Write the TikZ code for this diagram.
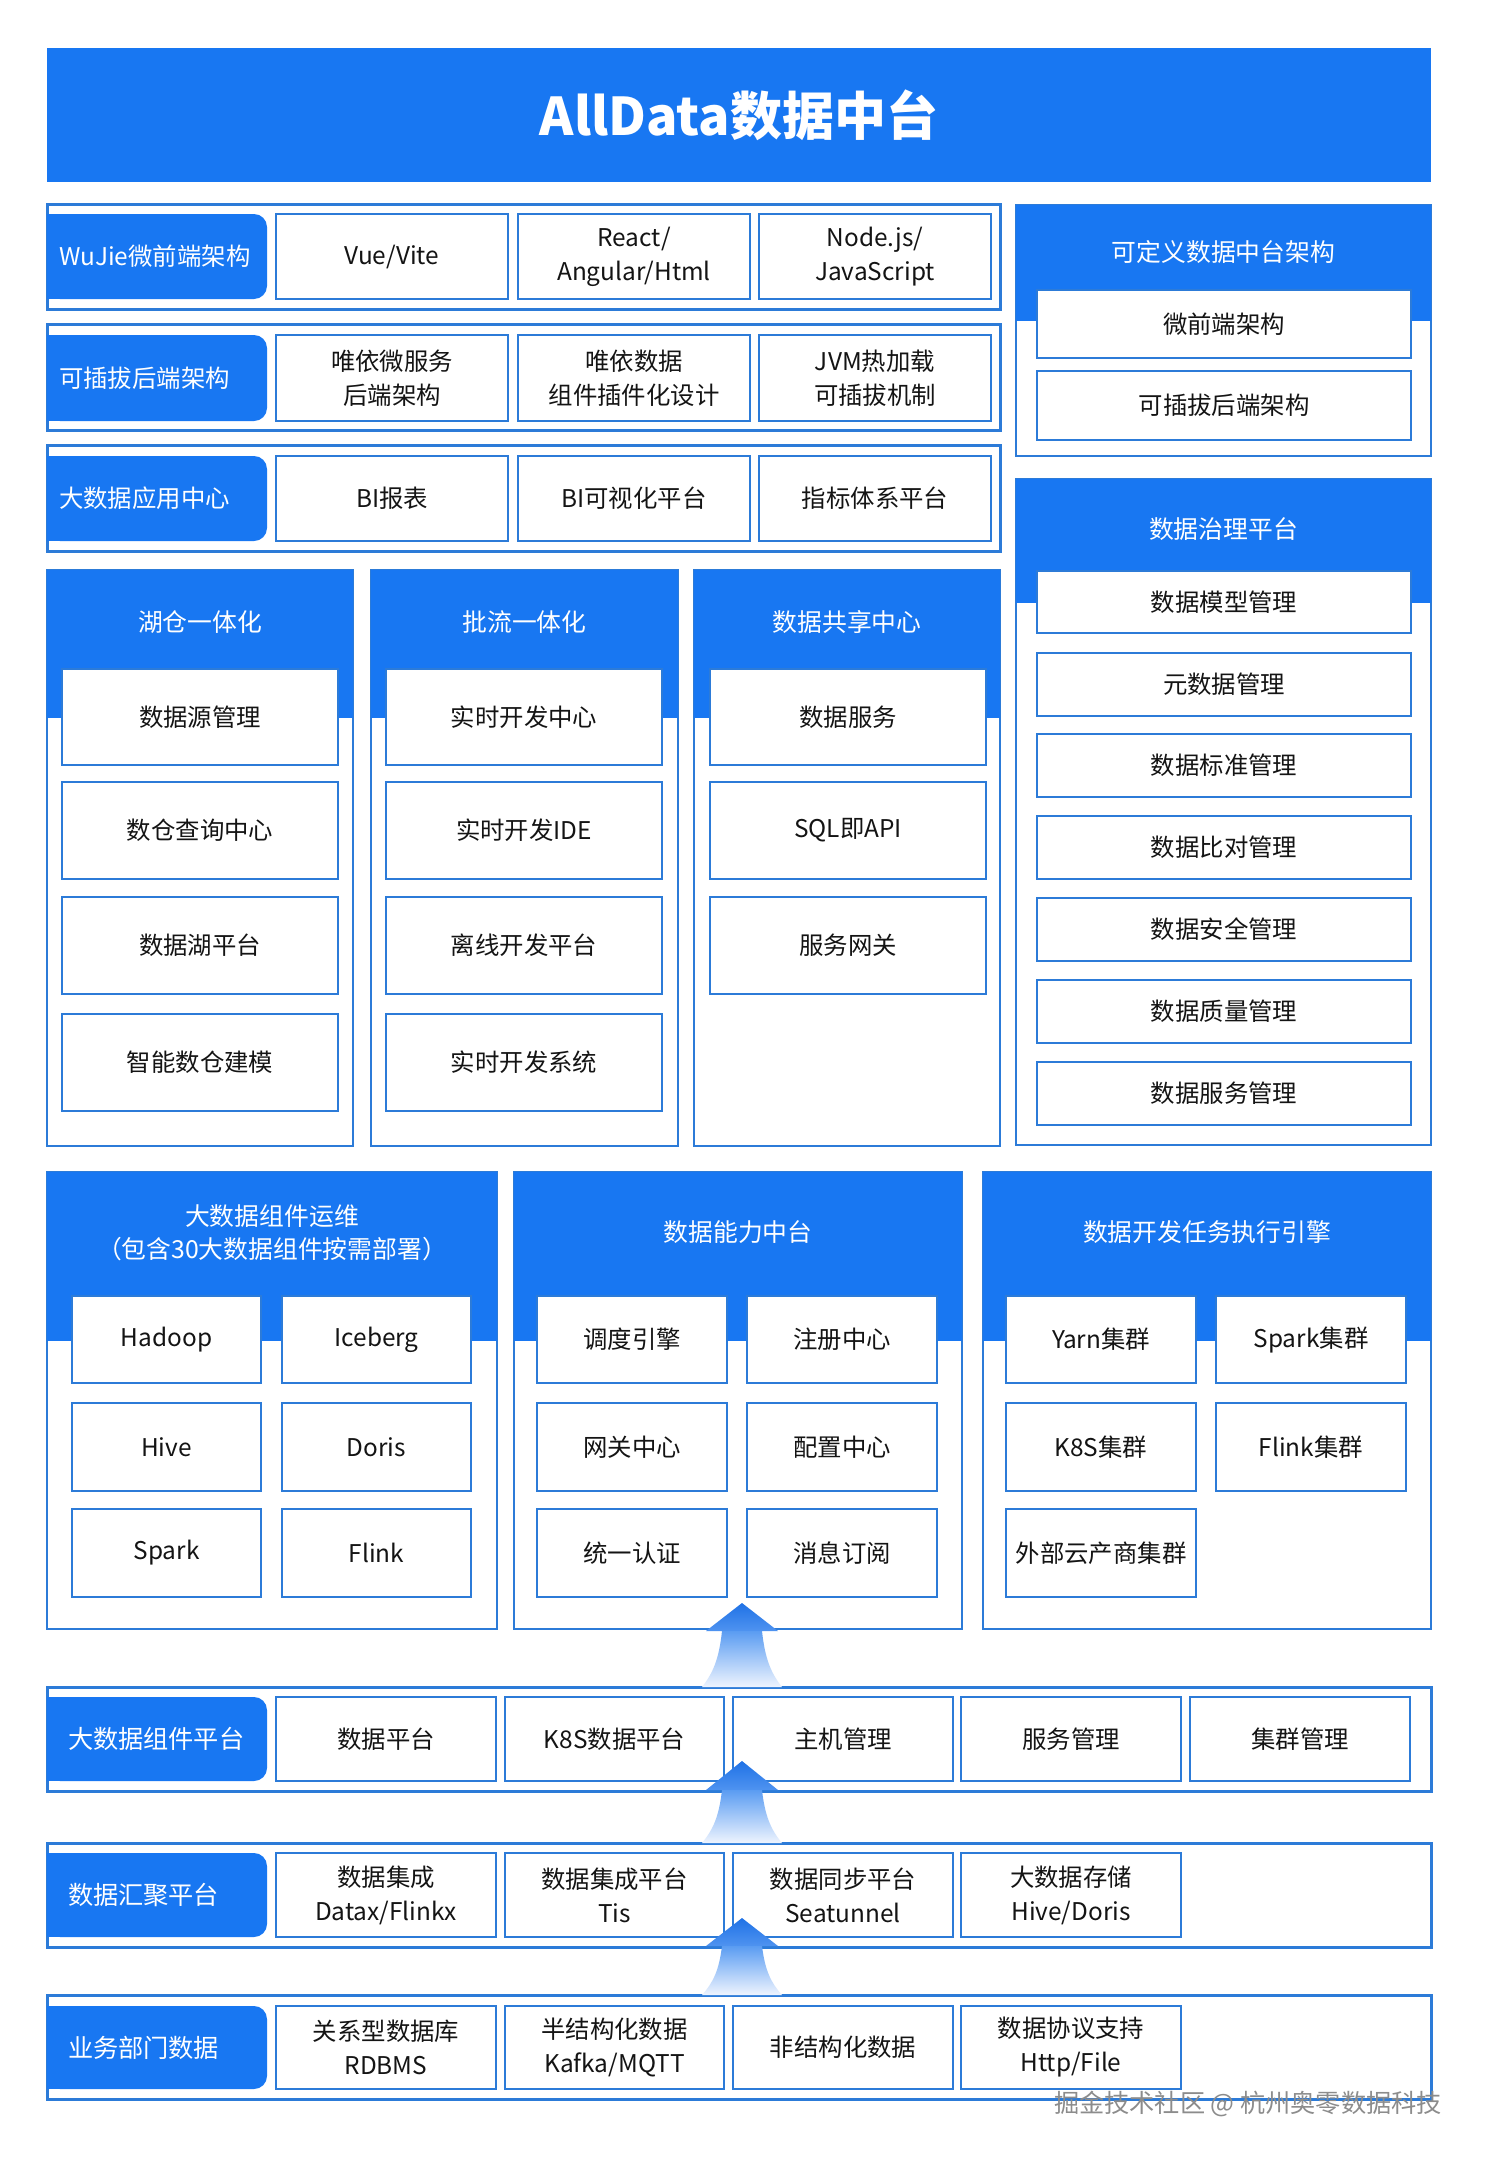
\documentclass[tikz,border=0pt]{standalone}
\usepackage{fontspec}
\setmainfont{Noto Sans CJK SC}
\definecolor{bblue}{HTML}{1877F2}
\definecolor{bline}{HTML}{2C7BD8}
\definecolor{arrA}{HTML}{1F72E6}
\definecolor{arrB}{HTML}{4F93F0}
\definecolor{arrC}{HTML}{5A9CF2}
\definecolor{arrD}{HTML}{EEF4FE}
\definecolor{wmark}{HTML}{8C8C8C}
\newcommand\bx[7]{\node[#1, minimum width={(#5-#3)*0.5pt}, minimum height={(#6-#4)*0.5pt}] (#2) at ({(#3+#5)/2},{(#4+#6)/2}) {#7};}
\newcommand\uparr[4]{%
  \shade[top color=arrA, bottom color=arrB] (742,#2) -- (778,#3) -- (706,#3) -- cycle;
  \shade[top color=arrC, bottom color=arrD] (722,#3) .. controls (719,{#3+0.5*(#4-#3)}) and (713,{#3+0.75*(#4-#3)}) .. (702,#4) -- (782,#4) .. controls (771,{#3+0.75*(#4-#3)}) and (765,{#3+0.5*(#4-#3)}) .. (762,#3) -- cycle;
  \coordinate (#1) at (742,#2);}
\tikzset{
  basefont/.style={font=\fontsize{12.2}{17}\selectfont},
  cell/.style={draw=bline, line width=0.8pt, fill=white, text=black!92, align=center, inner sep=0pt, basefont},
  rowbox/.style={draw=bline, line width=1.5pt, fill=white, inner sep=0pt},
  panel/.style={draw=bline, line width=1.3pt, fill=white, inner sep=0pt},
  hdr/.style={fill=bblue, draw=none, inner sep=0pt},
  hdrtext/.style={text=white, align=center, basefont, font=\fontsize{12.4}{16.5}\selectfont},
  labA/.style={fill=bblue, rounded corners=6.5pt, text=white, align=left, inner xsep=6pt, text width=98pt, inner ysep=0pt, basefont},
  labB/.style={fill=bblue, rounded corners=6.5pt, text=white, align=left, inner xsep=10.5pt, text width=89pt, inner ysep=0pt, font=\fontsize{12.6}{17}\selectfont},
}
\begin{document}
\begin{tikzpicture}[x=0.5pt,y=-0.5pt]
\useasboundingbox (0,0) rectangle (1484,2163);
\fill[white] (0,0) rectangle (1484,2163);
% Title
\bx{hdr, text=white, font=\fontsize{26}{30}\bfseries}{title}{47}{48}{1431}{182}{AllData数据中台}

% ---------- Upper left rows ----------
\bx{rowbox}{r1}{47}{204}{1000}{309}{}
\fill[bblue] (47,214) rectangle (160,299);
\bx{labA}{l1}{47}{214}{267}{299}{WuJie微前端架构}
\bx{cell}{c11}{276}{214}{508}{299}{Vue/Vite}
\bx{cell}{c12}{518}{214}{750}{299}{React/\\Angular/Html}
\bx{cell}{c13}{759}{214}{991}{299}{Node.js/\\JavaScript}

\bx{rowbox}{r2}{47}{324}{1000}{430}{}
\fill[bblue] (47,335) rectangle (160,421);
\bx{labA}{l2}{47}{335}{267}{421}{可插拔后端架构}
\bx{cell}{c21}{276}{335}{508}{421}{唯依微服务\\后端架构}
\bx{cell}{c22}{518}{335}{750}{421}{唯依数据\\组件插件化设计}
\bx{cell}{c23}{759}{335}{991}{421}{JVM热加载\\可插拔机制}

\bx{rowbox}{r3}{47}{445}{1000}{551}{}
\fill[bblue] (47,456) rectangle (160,541);
\bx{labA}{l3}{47}{456}{267}{541}{大数据应用中心}
\bx{cell}{c31}{276}{456}{508}{541}{BI报表}
\bx{cell}{c32}{518}{456}{750}{541}{BI可视化平台}
\bx{cell}{c33}{759}{456}{991}{541}{指标体系平台}

% ---------- Right panel 1 ----------
\bx{panel}{p1}{1016}{205}{1431}{456}{}
\bx{hdr}{p1h}{1016}{205}{1431}{321}{}
\node[hdrtext] (p1t) at (1223.5,252) {可定义数据中台架构};
\bx{cell}{p1a}{1037}{290}{1411}{358}{微前端架构}
\bx{cell}{p1b}{1037}{371}{1411}{440}{可插拔后端架构}

% ---------- Right panel 2 ----------
\bx{panel}{p2}{1016}{479}{1431}{1145}{}
\bx{hdr}{p2h}{1016}{479}{1431}{603}{}
\node[hdrtext] (p2t) at (1223.5,529) {数据治理平台};
\bx{cell}{p2a}{1037}{571}{1411}{633}{数据模型管理}
\bx{cell}{p2b}{1037}{653}{1411}{716}{元数据管理}
\bx{cell}{p2c}{1037}{734}{1411}{797}{数据标准管理}
\bx{cell}{p2d}{1037}{816}{1411}{879}{数据比对管理}
\bx{cell}{p2e}{1037}{898}{1411}{961}{数据安全管理}
\bx{cell}{p2f}{1037}{980}{1411}{1043}{数据质量管理}
\bx{cell}{p2g}{1037}{1062}{1411}{1125}{数据服务管理}

% ---------- Three columns ----------
\bx{panel}{k1}{47}{570}{353}{1146}{}
\bx{hdr}{k1h}{47}{570}{353}{718}{}
\node[hdrtext] (k1t) at (200,622) {湖仓一体化};
\bx{cell}{k1a}{62}{669}{338}{765}{数据源管理}
\bx{cell}{k1b}{62}{782}{338}{879}{数仓查询中心}
\bx{cell}{k1c}{62}{897}{338}{994}{数据湖平台}
\bx{cell}{k1d}{62}{1014}{338}{1111}{智能数仓建模}

\bx{panel}{k2}{371}{570}{678}{1146}{}
\bx{hdr}{k2h}{371}{570}{678}{718}{}
\node[hdrtext] (k2t) at (524.5,622) {批流一体化};
\bx{cell}{k2a}{386}{669}{662}{765}{实时开发中心}
\bx{cell}{k2b}{386}{782}{662}{879}{实时开发IDE}
\bx{cell}{k2c}{386}{897}{662}{994}{离线开发平台}
\bx{cell}{k2d}{386}{1014}{662}{1111}{实时开发系统}

\bx{panel}{k3}{694}{570}{1000}{1146}{}
\bx{hdr}{k3h}{694}{570}{1000}{718}{}
\node[hdrtext] (k3t) at (847,622) {数据共享中心};
\bx{cell}{k3a}{710}{669}{986}{765}{数据服务}
\bx{cell}{k3b}{710}{782}{986}{879}{SQL即API}
\bx{cell}{k3c}{710}{897}{986}{994}{服务网关}

% ---------- Lower panels ----------
\bx{panel}{qa}{47}{1172}{497}{1629}{}
\bx{hdr}{qah}{47}{1172}{497}{1341}{}
\node[hdrtext] (qat) at (272,1233) {大数据组件运维\\（包含30大数据组件按需部署）};
\bx{cell}{qa1}{72}{1296}{261}{1383}{Hadoop}
\bx{cell}{qa2}{282}{1296}{471}{1383}{Iceberg}
\bx{cell}{qa3}{72}{1403}{261}{1491}{Hive}
\bx{cell}{qa4}{282}{1403}{471}{1491}{Doris}
\bx{cell}{qa5}{72}{1509}{261}{1597}{Spark}
\bx{cell}{qa6}{282}{1509}{471}{1597}{Flink}

\bx{panel}{qb}{514}{1172}{962}{1629}{}
\bx{hdr}{qbh}{514}{1172}{962}{1341}{}
\node[hdrtext] (qbt) at (738,1232) {数据能力中台};
\bx{cell}{qb1}{537}{1296}{727}{1383}{调度引擎}
\bx{cell}{qb2}{747}{1296}{937}{1383}{注册中心}
\bx{cell}{qb3}{537}{1403}{727}{1491}{网关中心}
\bx{cell}{qb4}{747}{1403}{937}{1491}{配置中心}
\bx{cell}{qb5}{537}{1509}{727}{1597}{统一认证}
\bx{cell}{qb6}{747}{1509}{937}{1597}{消息订阅}

\bx{panel}{qc}{983}{1172}{1431}{1629}{}
\bx{hdr}{qch}{983}{1172}{1431}{1341}{}
\node[hdrtext] (qct) at (1207,1232) {数据开发任务执行引擎};
\bx{cell}{qc1}{1006}{1296}{1196}{1383}{Yarn集群}
\bx{cell}{qc2}{1216}{1296}{1406}{1383}{Spark集群}
\bx{cell}{qc3}{1006}{1403}{1196}{1491}{K8S集群}
\bx{cell}{qc4}{1216}{1403}{1406}{1491}{Flink集群}
\bx{cell}{qc5}{1006}{1509}{1196}{1597}{外部云产商集群}

% ---------- Bottom rows ----------
\bx{rowbox}{r4}{47}{1687}{1431}{1791}{}
\fill[bblue] (47,1697) rectangle (160,1781);
\bx{labB}{l4}{47}{1697}{267}{1781}{大数据组件平台}
\bx{cell}{c41}{276}{1697}{496}{1781}{数据平台}
\bx{cell}{c42}{505}{1697}{724}{1781}{K8S数据平台}
\bx{cell}{c43}{733}{1697}{953}{1781}{主机管理}
\bx{cell}{c44}{961}{1697}{1181}{1781}{服务管理}
\bx{cell}{c45}{1190}{1697}{1410}{1781}{集群管理}

\bx{rowbox}{r5}{47}{1843}{1431}{1947}{}
\fill[bblue] (47,1853) rectangle (160,1937);
\bx{labB}{l5}{47}{1853}{267}{1937}{数据汇聚平台}
\bx{cell}{c51}{276}{1853}{496}{1937}{数据集成\\Datax/Flinkx}
\bx{cell}{c52}{505}{1853}{724}{1937}{数据集成平台\\Tis}
\bx{cell}{c53}{733}{1853}{953}{1937}{数据同步平台\\Seatunnel}
\bx{cell}{c54}{961}{1853}{1181}{1937}{大数据存储\\Hive/Doris}

\bx{rowbox}{r6}{47}{1995}{1431}{2099}{}
\fill[bblue] (47,2006) rectangle (160,2089);
\bx{labB}{l6}{47}{2006}{267}{2089}{业务部门数据}
\bx{cell}{c61}{276}{2006}{496}{2089}{关系型数据库\\RDBMS}
\bx{cell}{c62}{505}{2006}{724}{2089}{半结构化数据\\Kafka/MQTT}
\bx{cell}{c63}{733}{2006}{953}{2089}{非结构化数据}
\bx{cell}{c64}{961}{2006}{1181}{2089}{数据协议支持\\Http/File}

% ---------- Arrows ----------
\uparr{a1}{1603}{1631}{1687}
\uparr{a2}{1761}{1790}{1843}
\uparr{a3}{1918}{1946}{1995}

% ---------- Watermark ----------
\node[text=wmark, font=\fontsize{12.6}{15}\selectfont, inner sep=0pt] (wm) at (1248,2104) {掘金技术社区 @ 杭州奥零数据科技};
\end{tikzpicture}
\end{document}
